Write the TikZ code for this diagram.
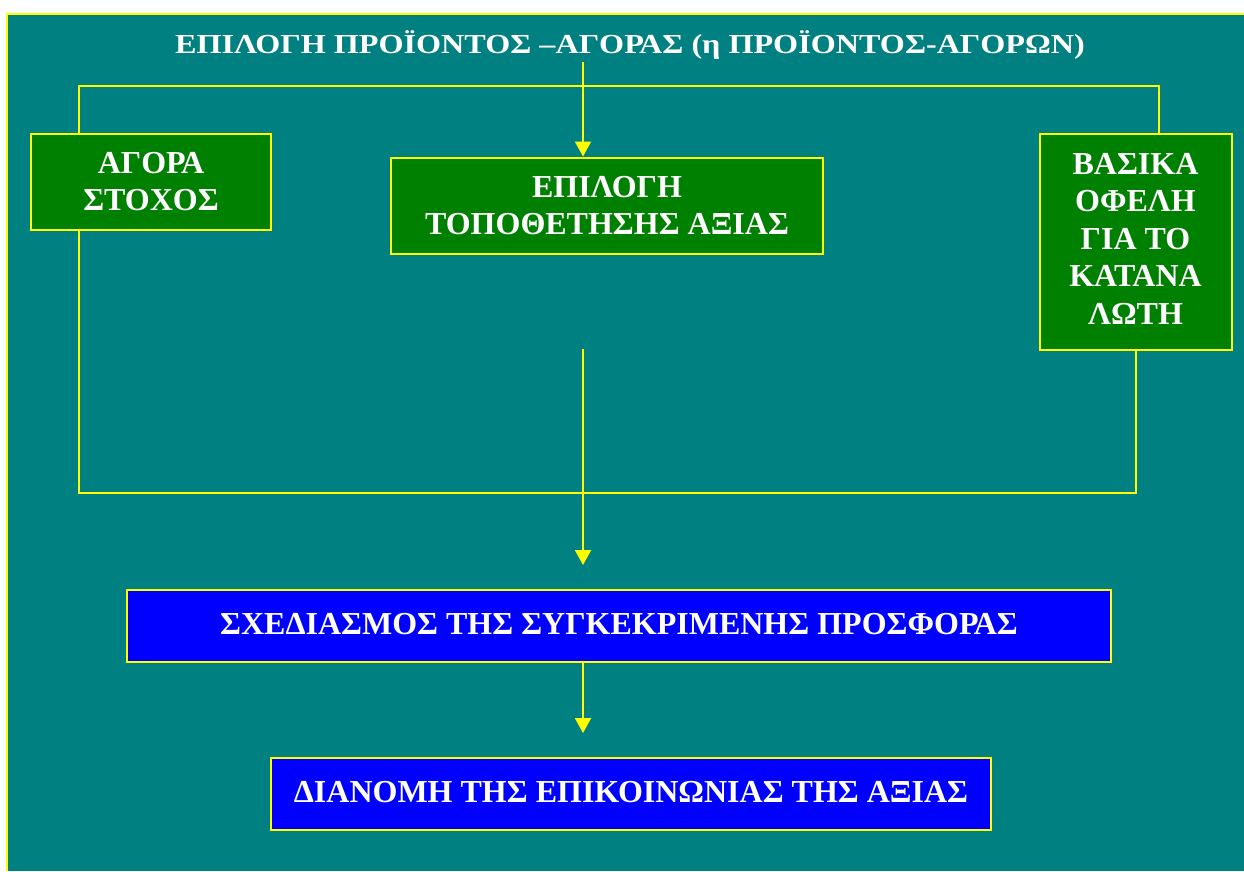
\documentclass[tikz,border=0pt]{standalone}
\usepackage{fontspec}
\setmainfont{Liberation Serif}
\usetikzlibrary{arrows.meta}
\definecolor{bgteal}{HTML}{008080}
\definecolor{boxgreen}{HTML}{008000}
\definecolor{boxblue}{HTML}{0000FF}
\definecolor{lineyellow}{HTML}{FFFF00}
\begin{document}
\begin{tikzpicture}[x=1pt,y=-1pt,
  conn/.style={draw=lineyellow,line width=2pt},
  arr/.style={conn,-{Triangle[length=15pt,width=16pt]}},
  gbox/.style={draw=lineyellow,line width=2pt,fill=boxgreen,text=white,
    font=\fontsize{32}{37}\selectfont\bfseries,align=center,inner sep=0pt},
  bbox/.style={draw=lineyellow,line width=2pt,fill=boxblue,text=white,
    font=\fontsize{32}{37}\selectfont\bfseries,align=center,inner sep=0pt}
]
\useasboundingbox (0,0) rectangle (1244,871);
\fill[white] (0,0) rectangle (1244,871);
\fill[bgteal] (7,14) rectangle (1244,871);
\draw[conn] (7,871) -- (7,14) -- (1244,14);

\node[text=white,font=\fontsize{27.5}{30}\selectfont\bfseries,inner sep=0pt] (title) at (630,45)
  {\scalebox{1.17}[1]{ΕΠΙΛΟΓΗ ΠΡΟΪΟΝΤΟΣ –ΑΓΟΡΑΣ (η ΠΡΟΪΟΝΤΟΣ-ΑΓΟΡΩΝ)}};

\node[gbox,minimum width=240pt,minimum height=96pt] (agora) at (151,181.5)
  {ΑΓΟΡΑ\\ΣΤΟΧΟΣ};
\node[gbox,minimum width=432pt,minimum height=96pt] (value) at (607,205.5)
  {ΕΠΙΛΟΓΗ\\ΤΟΠΟΘΕΤΗΣΗΣ ΑΞΙΑΣ};
\node[gbox,minimum width=192pt,minimum height=216pt,font=\fontsize{32}{37.5}\selectfont\bfseries] (benefit) at (1135.5,241.5)
  {\raisebox{3pt}{\begin{tabular}{@{}c@{}}ΒΑΣΙΚΑ\\ΟΦΕΛΗ\\ΓΙΑ ΤΟ\\ΚΑΤΑΝΑ\\ΛΩΤΗ\end{tabular}}};
\node[bbox,minimum width=984pt,minimum height=72pt] (design) at (619,626)
  {\raisebox{4pt}{ΣΧΕΔΙΑΣΜΟΣ ΤΗΣ ΣΥΓΚΕΚΡΙΜΕΝΗΣ ΠΡΟΣΦΟΡΑΣ}};
\node[bbox,minimum width=720pt,minimum height=72pt] (deliver) at (631,794)
  {\raisebox{4pt}{ΔΙΑΝΟΜΗ ΤΗΣ ΕΠΙΚΟΙΝΩΝΙΑΣ ΤΗΣ ΑΞΙΑΣ}};

\coordinate (tstart) at (583,62);
\coordinate (mstart) at (583,349);
\coordinate (mend) at (583,565);
\coordinate (dend) at (583,733);

% top loop
\draw[conn] (agora.north -| 79,0) -- (79,86) -- (1159,86) -- (benefit.north -| 1159,0);
% title arrow
\draw[arr] (tstart) -- (value.north -| tstart);
% bottom loop
\draw[conn] (agora.south -| 79,0) -- (79,493) -- (1135.5,493) -- (benefit.south);
% central arrows
\draw[arr] (mstart) -- (mend);
\draw[arr] (design.south -| dend) -- (dend);
\end{tikzpicture}
\end{document}
